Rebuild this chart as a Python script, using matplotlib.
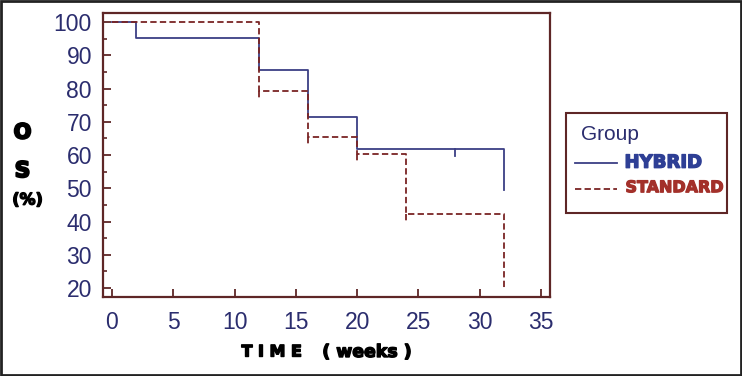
import matplotlib
matplotlib.use("Agg")
import matplotlib.pyplot as plt
import matplotlib.patheffects as pe
from matplotlib.lines import Line2D
from matplotlib.patches import Rectangle
from matplotlib.ticker import MultipleLocator

# ---- data ----
hybrid_times = [0, 2, 12, 16, 20, 32]
hybrid_surv = [100, 95.2, 85.7, 71.4, 61.9, 49.5]
hybrid_censor_times = [28]
hybrid_censor_surv = [61.9]

standard_times = [0, 12, 16, 20, 24, 32]
standard_surv = [100, 79.2, 65.5, 60.4, 42.3, 20.0]
standard_censor_times = [12, 16, 20, 24]
standard_censor_surv = [79.2, 65.5, 60.4, 42.3]

x_ticks = [0, 5, 10, 15, 20, 25, 30, 35]
y_ticks = [20, 30, 40, 50, 60, 70, 80, 90, 100]
group_labels = ["HYBRID", "STANDARD"]

W, H = 742, 376
def fx(x):
    return x / W
def fy(y):
    return 1 - y / H

hyb_color = "#3b3f85"
std_color = "#7a2424"
spine_color = "#5e2626"
tick_color = "#2b2d6e"

def heavy(c, w=0.9):
    return [pe.withStroke(linewidth=w, foreground=c)]

fig = plt.figure(figsize=(W / 100, H / 100), dpi=100)
ax = fig.add_axes([fx(103), fy(296.7), fx(550) - fx(103), fy(12.7) - fy(296.7)])

ax.step(hybrid_times, hybrid_surv, where="post", color=hyb_color, lw=1.3)
for t, s in zip(hybrid_censor_times, hybrid_censor_surv):
    ax.plot([t, t], [s, s - 2.2], color=hyb_color, lw=1.3)

ax.step(standard_times, standard_surv, where="post", color=std_color, lw=1.3,
        dashes=(3.5, 1.8))
for t, s in zip(standard_censor_times, standard_censor_surv):
    ax.plot([t, t], [s, s - 2.2], color=std_color, lw=1.3, dashes=(3.5, 1.8))

ax.set_xlim(-0.73, 35.73)
ax.set_ylim(17.4, 102.8)
ax.set_xticks(x_ticks)
ax.set_yticks(y_ticks)
ax.yaxis.set_minor_locator(MultipleLocator(5))
ax.tick_params(axis="both", which="major", direction="in", length=6, width=1.3,
               color=spine_color, labelcolor=tick_color, labelsize=16.5,
               pad=8)
ax.tick_params(axis="x", pad=10)
ax.tick_params(axis="y", which="minor", direction="in", length=3, width=1.2,
               color=spine_color)
for lab in ax.get_xticklabels() + ax.get_yticklabels():
    lab.set_fontfamily("Liberation Sans")
for sp in ax.spines.values():
    sp.set_color(spine_color)
    sp.set_linewidth(1.6)

# y label (stacked)
fig.text(fx(22.5), fy(132.5), "O", fontsize=15, fontweight="bold",
         ha="center", va="center", color="black", path_effects=heavy("black", 1.5))
fig.text(fx(22.5), fy(171), "S", fontsize=15.5, fontweight="bold",
         ha="center", va="center", color="black", path_effects=heavy("black", 1.5))
fig.text(fx(27.5), fy(200), "(%)", fontsize=11.5, fontweight="bold",
         ha="center", va="center", color="black", path_effects=heavy("black", 1.0))

# x label
fig.text(fx(272), fy(352), "T I M E", fontsize=11.5, fontweight="bold",
         ha="center", va="center", color="black", path_effects=heavy("black", 1.0))
fig.text(fx(367), fy(352), "( weeks )", fontsize=12.5, fontweight="bold",
         ha="center", va="center", color="black", path_effects=heavy("black", 1.0))

# legend box
fig.patches.append(Rectangle((fx(566), fy(212.7)), fx(727) - fx(566),
                             fy(112.7) - fy(212.7), transform=fig.transFigure,
                             fill=False, edgecolor=spine_color, lw=1.5))
fig.text(fx(581.5), fy(135), "Group", fontsize=15, family="Liberation Sans",
         ha="left", va="center", color=tick_color)
fig.lines.append(Line2D([fx(575), fx(617)], [fy(163.3), fy(163.3)],
                        transform=fig.transFigure, color=hyb_color, lw=1.3))
fig.lines.append(Line2D([fx(575), fx(617)], [fy(189), fy(189)],
                        transform=fig.transFigure, color=std_color, lw=1.3,
                        dashes=(3.5, 1.8)))
fig.text(fx(624.5), fy(162.7), group_labels[0], fontsize=13, fontweight="bold",
         ha="left", va="center", color="#2e3f95", path_effects=heavy("#2e3f95", 1.0))
fig.text(fx(625.5), fy(187.7), group_labels[1], fontsize=11.5, fontweight="bold",
         ha="left", va="center", color="#a3302a", path_effects=heavy("#a3302a", 0.9))

# outer image border
fig.patches.append(Rectangle((0.001, 0.003), 0.997, 0.995, transform=fig.transFigure,
                             fill=False, edgecolor="#222222", lw=2))

fig.savefig("out.png", dpi=100)
